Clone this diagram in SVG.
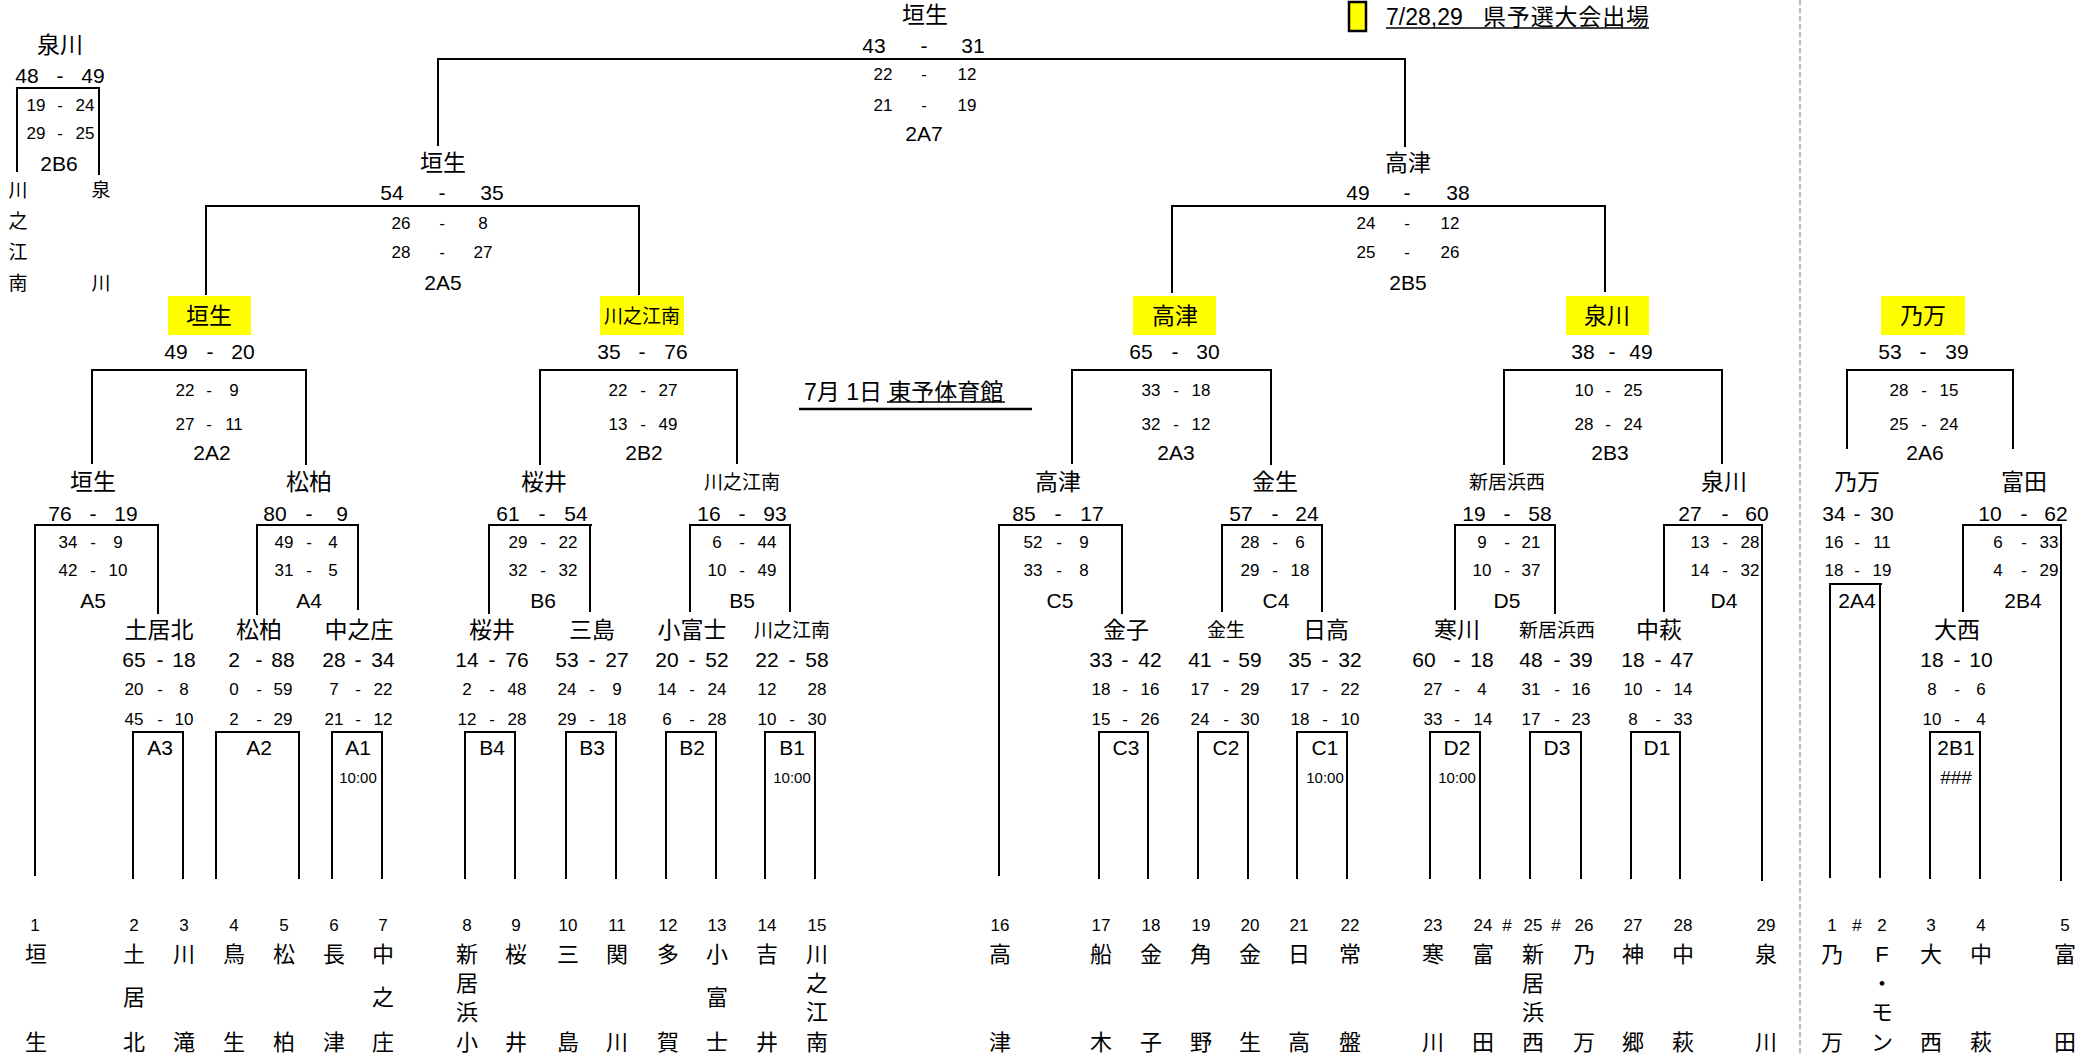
<svg xmlns="http://www.w3.org/2000/svg" width="2096" height="1056" viewBox="0 0 2096 1056">
<style>
text{font-family:"Liberation Sans","Noto Sans CJK JP",sans-serif;fill:#000;text-anchor:middle;dominant-baseline:central}
.b{font-size:21px}
.s{font-size:17px}
.n{font-size:23px}
.ns{font-size:19px}
.v{font-size:22px}
.q{font-size:17px}
.t{font-size:15px}
.h{font-size:23px;text-anchor:start}
.ln{stroke:#000;stroke-width:2;fill:none}
.u{stroke:#000;stroke-width:1.5}
.y{fill:#ffff00}
</style>
<rect width="2096" height="1056" fill="#fff"/>
<g id="connectors" class="ln">
<path d="M438 146V59H1405V147"/>
<path d="M17 172V88H100M99 88V175"/>
<path d="M206 295V206H639V295"/>
<path d="M1172 293V206H1605V292"/>
<path d="M92 464V370H306V465"/>
<path d="M540 465V370H737V464"/>
<path d="M1072 464V370H1271V465"/>
<path d="M1504 465V370H1722V464"/>
<path d="M1847 449V370H2013V449"/>
<path d="M35 876V525H158V614"/>
<path d="M257 615V525H358V610"/>
<path d="M489 614V525H592M590 525V612"/>
<path d="M690 612V525H790V612"/>
<path d="M999 876V525H1122V614"/>
<path d="M1222 612V525H1322V612"/>
<path d="M1455 610V525H1555V614"/>
<path d="M1664 612V525H1762V881"/>
<path d="M1963 612V525H2061V881"/>
<path d="M1830 878V584H1882M1880 584V878"/>
<path d="M133 879V732H184M183 732V879"/>
<path d="M216 879V732H299V879"/>
<path d="M332 879V732H382V879"/>
<path d="M465 879V732H515V879"/>
<path d="M566 879V732H616V879"/>
<path d="M666 879V732H716V879"/>
<path d="M765 879V732H815V879"/>
<path d="M1099 879V732H1148V879"/>
<path d="M1198 879V732H1248V879"/>
<path d="M1297 879V732H1347V879"/>
<path d="M1430 879V732H1480V879"/>
<path d="M1530 879V732H1581V879"/>
<path d="M1631 879V732H1680V879"/>
<path d="M1930 879V732H1980V879"/>
<path d="M1800 0V1056" stroke="#777" stroke-width="1" stroke-dasharray="5 3"/>
</g>
<g id="legend">
<rect x="1349" y="2" width="17" height="29" class="y" stroke="#000" stroke-width="2.5"/>
<text class="h" x="1386" y="17">7/28,29</text>
<text class="h" x="1483" y="17" textLength="166" lengthAdjust="spacing">県予選大会出場</text>
<line class="u" x1="1386" y1="28" x2="1649" y2="28"/>
</g>
<g id="venue">
<text class="h" x="804" y="392">7月 1日 東予体育館</text>
<line class="u" x1="887" y1="402" x2="1005" y2="402"/>
<line x1="799" y1="409" x2="1032" y2="409" stroke="#000" stroke-width="2.5"/>
</g>
<g id="m-2A7">
<text class="n" x="925" y="15">垣生</text>
<text class="b" x="874" y="45">43</text><text class="b" x="924" y="45">-</text><text class="b" x="973" y="45">31</text>
<text class="s" x="883" y="74">22</text><text class="s" x="924" y="74">-</text><text class="s" x="967" y="74">12</text>
<text class="s" x="883" y="105">21</text><text class="s" x="924" y="105">-</text><text class="s" x="967" y="105">19</text>
<text class="b" x="924" y="133">2A7</text>
</g>
<g id="m-2B6">
<text class="n" x="60" y="45">泉川</text>
<text class="b" x="27" y="75">48</text><text class="b" x="60" y="75">-</text><text class="b" x="93" y="75">49</text>
<text class="s" x="36" y="105">19</text><text class="s" x="60" y="105">-</text><text class="s" x="85" y="105">24</text>
<text class="s" x="36" y="133">29</text><text class="s" x="60" y="133">-</text><text class="s" x="85" y="133">25</text>
<text class="b" x="59" y="163">2B6</text>
<text class="ns" x="18" y="190">川</text><text class="ns" x="18" y="221">之</text><text class="ns" x="18" y="252">江</text><text class="ns" x="18" y="283">南</text>
<text class="ns" x="101" y="190">泉</text><text class="ns" x="101" y="283">川</text>
</g>
<g id="m-2A5">
<text class="n" x="443" y="163">垣生</text>
<text class="b" x="392" y="192">54</text><text class="b" x="442" y="192">-</text><text class="b" x="492" y="192">35</text>
<text class="s" x="401" y="223">26</text><text class="s" x="442" y="223">-</text><text class="s" x="483" y="223">8</text>
<text class="s" x="401" y="252">28</text><text class="s" x="442" y="252">-</text><text class="s" x="483" y="252">27</text>
<text class="b" x="443" y="282">2A5</text>
</g>
<g id="m-2B5">
<text class="n" x="1408" y="163">高津</text>
<text class="b" x="1358" y="192">49</text><text class="b" x="1407" y="192">-</text><text class="b" x="1458" y="192">38</text>
<text class="s" x="1366" y="223">24</text><text class="s" x="1407" y="223">-</text><text class="s" x="1450" y="223">12</text>
<text class="s" x="1366" y="252">25</text><text class="s" x="1407" y="252">-</text><text class="s" x="1450" y="252">26</text>
<text class="b" x="1408" y="282">2B5</text>
</g>
<g id="m-2A2">
<rect x="168" y="296" width="83" height="39" class="y"/>
<text class="n" x="209" y="316">垣生</text>
<text class="b" x="176" y="351">49</text><text class="b" x="210" y="351">-</text><text class="b" x="243" y="351">20</text>
<text class="s" x="185" y="390">22</text><text class="s" x="209" y="390">-</text><text class="s" x="234" y="390">9</text>
<text class="s" x="185" y="424">27</text><text class="s" x="209" y="424">-</text><text class="s" x="234" y="424">11</text>
<text class="b" x="212" y="452">2A2</text>
</g>
<g id="m-2B2">
<rect x="600" y="296" width="84" height="39" class="y"/>
<text class="ns" x="642" y="316">川之江南</text>
<text class="b" x="609" y="351">35</text><text class="b" x="642" y="351">-</text><text class="b" x="676" y="351">76</text>
<text class="s" x="618" y="390">22</text><text class="s" x="643" y="390">-</text><text class="s" x="668" y="390">27</text>
<text class="s" x="618" y="424">13</text><text class="s" x="643" y="424">-</text><text class="s" x="668" y="424">49</text>
<text class="b" x="644" y="452">2B2</text>
</g>
<g id="m-2A3">
<rect x="1133" y="296" width="83" height="39" class="y"/>
<text class="n" x="1175" y="316">高津</text>
<text class="b" x="1141" y="351">65</text><text class="b" x="1175" y="351">-</text><text class="b" x="1208" y="351">30</text>
<text class="s" x="1151" y="390">33</text><text class="s" x="1176" y="390">-</text><text class="s" x="1201" y="390">18</text>
<text class="s" x="1151" y="424">32</text><text class="s" x="1176" y="424">-</text><text class="s" x="1201" y="424">12</text>
<text class="b" x="1176" y="452">2A3</text>
</g>
<g id="m-2B3">
<rect x="1566" y="296" width="83" height="39" class="y"/>
<text class="n" x="1607" y="316">泉川</text>
<text class="b" x="1583" y="351">38</text><text class="b" x="1612" y="351">-</text><text class="b" x="1641" y="351">49</text>
<text class="s" x="1584" y="390">10</text><text class="s" x="1608" y="390">-</text><text class="s" x="1633" y="390">25</text>
<text class="s" x="1584" y="424">28</text><text class="s" x="1608" y="424">-</text><text class="s" x="1633" y="424">24</text>
<text class="b" x="1610" y="452">2B3</text>
</g>
<g id="m-2A6">
<rect x="1881" y="296" width="84" height="39" class="y"/>
<text class="n" x="1923" y="316">乃万</text>
<text class="b" x="1890" y="351">53</text><text class="b" x="1923" y="351">-</text><text class="b" x="1957" y="351">39</text>
<text class="s" x="1899" y="390">28</text><text class="s" x="1924" y="390">-</text><text class="s" x="1949" y="390">15</text>
<text class="s" x="1899" y="424">25</text><text class="s" x="1924" y="424">-</text><text class="s" x="1949" y="424">24</text>
<text class="b" x="1925" y="452">2A6</text>
</g>
<g id="m-A5">
<text class="n" x="93" y="482">垣生</text>
<text class="b" x="60" y="513">76</text><text class="b" x="93" y="513">-</text><text class="b" x="126" y="513">19</text>
<text class="s" x="68" y="542">34</text><text class="s" x="93" y="542">-</text><text class="s" x="118" y="542">9</text>
<text class="s" x="68" y="570">42</text><text class="s" x="93" y="570">-</text><text class="s" x="118" y="570">10</text>
<text class="b" x="93" y="600">A5</text>
</g>
<g id="m-A4">
<text class="n" x="309" y="482">松柏</text>
<text class="b" x="275" y="513">80</text><text class="b" x="309" y="513">-</text><text class="b" x="342" y="513">9</text>
<text class="s" x="284" y="542">49</text><text class="s" x="309" y="542">-</text><text class="s" x="333" y="542">4</text>
<text class="s" x="284" y="570">31</text><text class="s" x="309" y="570">-</text><text class="s" x="333" y="570">5</text>
<text class="b" x="309" y="600">A4</text>
</g>
<g id="m-B6">
<text class="n" x="544" y="482">桜井</text>
<text class="b" x="508" y="513">61</text><text class="b" x="542" y="513">-</text><text class="b" x="576" y="513">54</text>
<text class="s" x="518" y="542">29</text><text class="s" x="543" y="542">-</text><text class="s" x="568" y="542">22</text>
<text class="s" x="518" y="570">32</text><text class="s" x="543" y="570">-</text><text class="s" x="568" y="570">32</text>
<text class="b" x="543" y="600">B6</text>
</g>
<g id="m-B5">
<text class="ns" x="742" y="482">川之江南</text>
<text class="b" x="709" y="513">16</text><text class="b" x="742" y="513">-</text><text class="b" x="775" y="513">93</text>
<text class="s" x="717" y="542">6</text><text class="s" x="742" y="542">-</text><text class="s" x="767" y="542">44</text>
<text class="s" x="717" y="570">10</text><text class="s" x="742" y="570">-</text><text class="s" x="767" y="570">49</text>
<text class="b" x="742" y="600">B5</text>
</g>
<g id="m-C5">
<text class="n" x="1058" y="482">高津</text>
<text class="b" x="1024" y="513">85</text><text class="b" x="1058" y="513">-</text><text class="b" x="1092" y="513">17</text>
<text class="s" x="1033" y="542">52</text><text class="s" x="1059" y="542">-</text><text class="s" x="1084" y="542">9</text>
<text class="s" x="1033" y="570">33</text><text class="s" x="1059" y="570">-</text><text class="s" x="1084" y="570">8</text>
<text class="b" x="1060" y="600">C5</text>
</g>
<g id="m-C4">
<text class="n" x="1275" y="482">金生</text>
<text class="b" x="1241" y="513">57</text><text class="b" x="1275" y="513">-</text><text class="b" x="1307" y="513">24</text>
<text class="s" x="1250" y="542">28</text><text class="s" x="1275" y="542">-</text><text class="s" x="1300" y="542">6</text>
<text class="s" x="1250" y="570">29</text><text class="s" x="1275" y="570">-</text><text class="s" x="1300" y="570">18</text>
<text class="b" x="1276" y="600">C4</text>
</g>
<g id="m-D5">
<text class="ns" x="1507" y="482">新居浜西</text>
<text class="b" x="1474" y="513">19</text><text class="b" x="1507" y="513">-</text><text class="b" x="1540" y="513">58</text>
<text class="s" x="1482" y="542">9</text><text class="s" x="1507" y="542">-</text><text class="s" x="1531" y="542">21</text>
<text class="s" x="1482" y="570">10</text><text class="s" x="1507" y="570">-</text><text class="s" x="1531" y="570">37</text>
<text class="b" x="1507" y="600">D5</text>
</g>
<g id="m-D4">
<text class="n" x="1724" y="482">泉川</text>
<text class="b" x="1690" y="513">27</text><text class="b" x="1725" y="513">-</text><text class="b" x="1757" y="513">60</text>
<text class="s" x="1700" y="542">13</text><text class="s" x="1725" y="542">-</text><text class="s" x="1750" y="542">28</text>
<text class="s" x="1700" y="570">14</text><text class="s" x="1725" y="570">-</text><text class="s" x="1750" y="570">32</text>
<text class="b" x="1724" y="600">D4</text>
</g>
<g id="m-2A4">
<text class="n" x="1857" y="482">乃万</text>
<text class="b" x="1834" y="513">34</text><text class="b" x="1857" y="513">-</text><text class="b" x="1882" y="513">30</text>
<text class="s" x="1834" y="542">16</text><text class="s" x="1857" y="542">-</text><text class="s" x="1882" y="542">11</text>
<text class="s" x="1834" y="570">18</text><text class="s" x="1857" y="570">-</text><text class="s" x="1882" y="570">19</text>
<text class="b" x="1857" y="600">2A4</text>
</g>
<g id="m-2B4">
<text class="n" x="2024" y="482">富田</text>
<text class="b" x="1990" y="513">10</text><text class="b" x="2024" y="513">-</text><text class="b" x="2056" y="513">62</text>
<text class="s" x="1998" y="542">6</text><text class="s" x="2024" y="542">-</text><text class="s" x="2049" y="542">33</text>
<text class="s" x="1998" y="570">4</text><text class="s" x="2024" y="570">-</text><text class="s" x="2049" y="570">29</text>
<text class="b" x="2023" y="600">2B4</text>
</g>
<g id="m-A3">
<text class="n" x="159" y="630">土居北</text>
<text class="b" x="134" y="659">65</text><text class="b" x="160" y="659">-</text><text class="b" x="184" y="659">18</text>
<text class="s" x="134" y="689">20</text><text class="s" x="160" y="689">-</text><text class="s" x="184" y="689">8</text>
<text class="s" x="134" y="719">45</text><text class="s" x="160" y="719">-</text><text class="s" x="184" y="719">10</text>
<text class="b" x="160" y="747">A3</text>
</g>
<g id="m-A2">
<text class="n" x="259" y="630">松柏</text>
<text class="b" x="234" y="659">2</text><text class="b" x="259" y="659">-</text><text class="b" x="283" y="659">88</text>
<text class="s" x="234" y="689">0</text><text class="s" x="259" y="689">-</text><text class="s" x="283" y="689">59</text>
<text class="s" x="234" y="719">2</text><text class="s" x="259" y="719">-</text><text class="s" x="283" y="719">29</text>
<text class="b" x="259" y="747">A2</text>
</g>
<g id="m-A1">
<text class="n" x="359" y="630">中之庄</text>
<text class="b" x="334" y="659">28</text><text class="b" x="358" y="659">-</text><text class="b" x="383" y="659">34</text>
<text class="s" x="334" y="689">7</text><text class="s" x="358" y="689">-</text><text class="s" x="383" y="689">22</text>
<text class="s" x="334" y="719">21</text><text class="s" x="358" y="719">-</text><text class="s" x="383" y="719">12</text>
<text class="b" x="358" y="747">A1</text>
<text class="t" x="358" y="777">10:00</text>
</g>
<g id="m-B4">
<text class="n" x="492" y="630">桜井</text>
<text class="b" x="467" y="659">14</text><text class="b" x="492" y="659">-</text><text class="b" x="517" y="659">76</text>
<text class="s" x="467" y="689">2</text><text class="s" x="492" y="689">-</text><text class="s" x="517" y="689">48</text>
<text class="s" x="467" y="719">12</text><text class="s" x="492" y="719">-</text><text class="s" x="517" y="719">28</text>
<text class="b" x="492" y="747">B4</text>
</g>
<g id="m-B3">
<text class="n" x="592" y="630">三島</text>
<text class="b" x="567" y="659">53</text><text class="b" x="592" y="659">-</text><text class="b" x="617" y="659">27</text>
<text class="s" x="567" y="689">24</text><text class="s" x="592" y="689">-</text><text class="s" x="617" y="689">9</text>
<text class="s" x="567" y="719">29</text><text class="s" x="592" y="719">-</text><text class="s" x="617" y="719">18</text>
<text class="b" x="592" y="747">B3</text>
</g>
<g id="m-B2">
<text class="n" x="692" y="630">小富士</text>
<text class="b" x="667" y="659">20</text><text class="b" x="692" y="659">-</text><text class="b" x="717" y="659">52</text>
<text class="s" x="667" y="689">14</text><text class="s" x="692" y="689">-</text><text class="s" x="717" y="689">24</text>
<text class="s" x="667" y="719">6</text><text class="s" x="692" y="719">-</text><text class="s" x="717" y="719">28</text>
<text class="b" x="692" y="747">B2</text>
</g>
<g id="m-B1">
<text class="ns" x="792" y="630">川之江南</text>
<text class="b" x="767" y="659">22</text><text class="b" x="792" y="659">-</text><text class="b" x="817" y="659">58</text>
<text class="s" x="767" y="689">12</text><text class="s" x="817" y="689">28</text>
<text class="s" x="767" y="719">10</text><text class="s" x="792" y="719">-</text><text class="s" x="817" y="719">30</text>
<text class="b" x="792" y="747">B1</text>
<text class="t" x="792" y="777">10:00</text>
</g>
<g id="m-C3">
<text class="n" x="1126" y="630">金子</text>
<text class="b" x="1101" y="659">33</text><text class="b" x="1125" y="659">-</text><text class="b" x="1150" y="659">42</text>
<text class="s" x="1101" y="689">18</text><text class="s" x="1125" y="689">-</text><text class="s" x="1150" y="689">16</text>
<text class="s" x="1101" y="719">15</text><text class="s" x="1125" y="719">-</text><text class="s" x="1150" y="719">26</text>
<text class="b" x="1126" y="747">C3</text>
</g>
<g id="m-C2">
<text class="ns" x="1226" y="630">金生</text>
<text class="b" x="1200" y="659">41</text><text class="b" x="1226" y="659">-</text><text class="b" x="1250" y="659">59</text>
<text class="s" x="1200" y="689">17</text><text class="s" x="1226" y="689">-</text><text class="s" x="1250" y="689">29</text>
<text class="s" x="1200" y="719">24</text><text class="s" x="1226" y="719">-</text><text class="s" x="1250" y="719">30</text>
<text class="b" x="1226" y="747">C2</text>
</g>
<g id="m-C1">
<text class="n" x="1326" y="630">日高</text>
<text class="b" x="1300" y="659">35</text><text class="b" x="1325" y="659">-</text><text class="b" x="1350" y="659">32</text>
<text class="s" x="1300" y="689">17</text><text class="s" x="1325" y="689">-</text><text class="s" x="1350" y="689">22</text>
<text class="s" x="1300" y="719">18</text><text class="s" x="1325" y="719">-</text><text class="s" x="1350" y="719">10</text>
<text class="b" x="1325" y="747">C1</text>
<text class="t" x="1325" y="777">10:00</text>
</g>
<g id="m-D2">
<text class="n" x="1457" y="630">寒川</text>
<text class="b" x="1424" y="659">60</text><text class="b" x="1457" y="659">-</text><text class="b" x="1482" y="659">18</text>
<text class="s" x="1433" y="689">27</text><text class="s" x="1457" y="689">-</text><text class="s" x="1482" y="689">4</text>
<text class="s" x="1433" y="719">33</text><text class="s" x="1457" y="719">-</text><text class="s" x="1483" y="719">14</text>
<text class="b" x="1457" y="747">D2</text>
<text class="t" x="1457" y="777">10:00</text>
</g>
<g id="m-D3">
<text class="ns" x="1557" y="630">新居浜西</text>
<text class="b" x="1531" y="659">48</text><text class="b" x="1557" y="659">-</text><text class="b" x="1581" y="659">39</text>
<text class="s" x="1531" y="689">31</text><text class="s" x="1557" y="689">-</text><text class="s" x="1581" y="689">16</text>
<text class="s" x="1531" y="719">17</text><text class="s" x="1557" y="719">-</text><text class="s" x="1581" y="719">23</text>
<text class="b" x="1557" y="747">D3</text>
</g>
<g id="m-D1">
<text class="n" x="1659" y="630">中萩</text>
<text class="b" x="1633" y="659">18</text><text class="b" x="1658" y="659">-</text><text class="b" x="1682" y="659">47</text>
<text class="s" x="1633" y="689">10</text><text class="s" x="1658" y="689">-</text><text class="s" x="1683" y="689">14</text>
<text class="s" x="1633" y="719">8</text><text class="s" x="1658" y="719">-</text><text class="s" x="1683" y="719">33</text>
<text class="b" x="1657" y="747">D1</text>
</g>
<g id="m-2B1">
<text class="n" x="1957" y="630">大西</text>
<text class="b" x="1932" y="659">18</text><text class="b" x="1957" y="659">-</text><text class="b" x="1981" y="659">10</text>
<text class="s" x="1932" y="689">8</text><text class="s" x="1957" y="689">-</text><text class="s" x="1981" y="689">6</text>
<text class="s" x="1932" y="719">10</text><text class="s" x="1957" y="719">-</text><text class="s" x="1981" y="719">4</text>
<text class="b" x="1956" y="747">2B1</text>
<text x="1956" y="777" style="font-size:19px">###</text>
</g>
<g id="seeds">
<g class="q">
<text x="35" y="925">1</text><text x="134" y="925">2</text><text x="184" y="925">3</text><text x="234" y="925">4</text><text x="284" y="925">5</text><text x="334" y="925">6</text><text x="383" y="925">7</text><text x="467" y="925">8</text><text x="516" y="925">9</text><text x="568" y="925">10</text><text x="617" y="925">11</text><text x="668" y="925">12</text><text x="717" y="925">13</text><text x="767" y="925">14</text><text x="817" y="925">15</text><text x="1000" y="925">16</text><text x="1101" y="925">17</text><text x="1151" y="925">18</text><text x="1201" y="925">19</text><text x="1250" y="925">20</text><text x="1299" y="925">21</text><text x="1350" y="925">22</text><text x="1433" y="925">23</text><text x="1483" y="925">24</text><text x="1507" y="925">#</text><text x="1533" y="925">25</text><text x="1556" y="925">#</text><text x="1584" y="925">26</text><text x="1633" y="925">27</text><text x="1683" y="925">28</text><text x="1766" y="925">29</text>
<text x="1832" y="925">1</text><text x="1857" y="925">#</text><text x="1882" y="925">2</text><text x="1931" y="925">3</text><text x="1981" y="925">4</text><text x="2065" y="925">5</text>
</g>
<g class="v">
<text x="36" y="954">垣</text><text x="36" y="1042">生</text>
<text x="134" y="954">土</text><text x="134" y="997">居</text><text x="134" y="1042">北</text>
<text x="184" y="954">川</text><text x="184" y="1042">滝</text>
<text x="234" y="954">鳥</text><text x="234" y="1042">生</text>
<text x="284" y="954">松</text><text x="284" y="1042">柏</text>
<text x="334" y="954">長</text><text x="334" y="1042">津</text>
<text x="383" y="954">中</text><text x="383" y="997">之</text><text x="383" y="1042">庄</text>
<text x="467" y="954">新</text><text x="467" y="983">居</text><text x="467" y="1012">浜</text><text x="467" y="1042">小</text>
<text x="516" y="954">桜</text><text x="516" y="1042">井</text>
<text x="568" y="954">三</text><text x="568" y="1042">島</text>
<text x="617" y="954">関</text><text x="617" y="1042">川</text>
<text x="668" y="954">多</text><text x="668" y="1042">賀</text>
<text x="717" y="954">小</text><text x="717" y="997">富</text><text x="717" y="1042">士</text>
<text x="767" y="954">吉</text><text x="767" y="1042">井</text>
<text x="817" y="954">川</text><text x="817" y="983">之</text><text x="817" y="1012">江</text><text x="817" y="1042">南</text>
<text x="1000" y="954">高</text><text x="1000" y="1042">津</text>
<text x="1101" y="954">船</text><text x="1101" y="1042">木</text>
<text x="1151" y="954">金</text><text x="1151" y="1042">子</text>
<text x="1201" y="954">角</text><text x="1201" y="1042">野</text>
<text x="1250" y="954">金</text><text x="1250" y="1042">生</text>
<text x="1299" y="954">日</text><text x="1299" y="1042">高</text>
<text x="1350" y="954">常</text><text x="1350" y="1042">盤</text>
<text x="1433" y="954">寒</text><text x="1433" y="1042">川</text>
<text x="1483" y="954">富</text><text x="1483" y="1042">田</text>
<text x="1533" y="954">新</text><text x="1533" y="983">居</text><text x="1533" y="1012">浜</text><text x="1533" y="1042">西</text>
<text x="1584" y="954">乃</text><text x="1584" y="1042">万</text>
<text x="1633" y="954">神</text><text x="1633" y="1042">郷</text>
<text x="1683" y="954">中</text><text x="1683" y="1042">萩</text>
<text x="1766" y="954">泉</text><text x="1766" y="1042">川</text>
<text x="1832" y="954">乃</text><text x="1832" y="1042">万</text>
<text x="1882" y="954">F</text><text x="1882" y="983">・</text><text x="1882" y="1012">モ</text><text x="1882" y="1042">ン</text>
<text x="1931" y="954">大</text><text x="1931" y="1042">西</text>
<text x="1981" y="954">中</text><text x="1981" y="1042">萩</text>
<text x="2065" y="954">富</text><text x="2065" y="1042">田</text>
</g>
</g>
</svg>
